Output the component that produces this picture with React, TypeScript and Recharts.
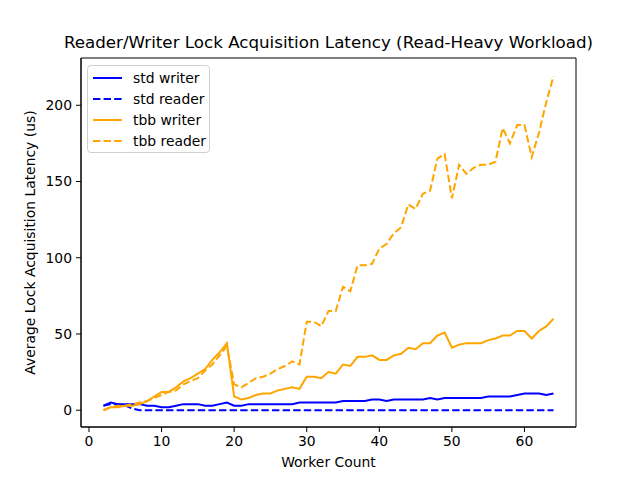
import React from "react";
import { LineChart, Line, XAxis, YAxis, Label, ReferenceArea } from "recharts";

const workers = [
  2, 3, 4, 5, 6, 7, 8, 9, 10, 11, 12, 13, 14, 15, 16, 17, 18, 19, 20, 21, 22, 23, 24, 25, 26, 27, 28, 29, 30, 31, 32, 33,
  34, 35, 36, 37, 38, 39, 40, 41, 42, 43, 44, 45, 46, 47, 48, 49, 50, 51, 52, 53, 54, 55, 56, 57, 58, 59, 60, 61, 62, 63, 64,
];

const stdWriter = [
  3, 5, 4, 4, 4, 4, 3, 3, 2, 2, 3, 4, 4, 4, 3, 3, 4, 5, 3, 3, 4, 4, 4, 4, 4, 4, 4, 5, 5, 5, 5, 5,
  5, 6, 6, 6, 6, 7, 7, 6, 7, 7, 7, 7, 7, 8, 7, 8, 8, 8, 8, 8, 8, 9, 9, 9, 9, 10, 11, 11, 11, 10, 11,
];

const stdReader = [
  3, 4, 4, 3, 1, 0, 0, 0, 0, 0, 0, 0, 0, 0, 0, 0, 0, 0, 0, 0, 0, 0, 0, 0, 0, 0, 0, 0, 0, 0, 0, 0,
  0, 0, 0, 0, 0, 0, 0, 0, 0, 0, 0, 0, 0, 0, 0, 0, 0, 0, 0, 0, 0, 0, 0, 0, 0, 0, 0, 0, 0, 0, 0,
];

const tbbWriter = [
  0, 2, 2, 3, 3, 4, 6, 9, 12, 12, 15, 19, 21, 24, 27, 33, 38, 44, 9, 7, 8, 10, 11, 11, 13, 14, 15, 14, 22, 22, 21, 25,
  24, 30, 29, 35, 35, 36, 33, 33, 36, 37, 41, 40, 44, 44, 49, 51, 41, 43, 44, 44, 44, 46, 47, 49, 49, 52, 52, 47, 52, 55, 60,
];

const tbbReader = [
  0, 2, 3, 3, 4, 5, 6, 8, 10, 12, 13, 17, 19, 21, 26, 30, 36, 42, 17, 15, 18, 21, 22, 24, 27, 29, 32, 30, 58, 58, 55, 65,
  65, 81, 78, 95, 95, 96, 106, 109, 116, 120, 135, 132, 142, 144, 165, 168, 139, 161, 155, 159, 161, 161, 163, 185, 175, 187, 187, 166, 182, 202, 219,
];

const xTicks = [0, 10, 20, 30, 40, 50, 60];
const yTicks = [0, 50, 100, 150, 200];

const data = workers.map((w, i) => ({
  workers: w,
  stdWriter: stdWriter[i],
  stdReader: stdReader[i],
  tbbWriter: tbbWriter[i],
  tbbReader: tbbReader[i],
}));

const FONT = "'DejaVu Sans', sans-serif";
const BLUE = "#0000ff";
const ORANGE = "#ffa500";
const DASH = "7.4 3.2";

const legendItems = [
  { label: "std writer", color: BLUE, dash: undefined },
  { label: "std reader", color: BLUE, dash: DASH },
  { label: "tbb writer", color: ORANGE, dash: undefined },
  { label: "tbb reader", color: ORANGE, dash: DASH },
];

// matplotlib-style legend box, laid over the plot's upper left corner
function LegendBox() {
  return (
    <div
      style={{
        position: "absolute",
        left: 87,
        top: 65,
        width: 123,
        height: 88,
        boxSizing: "border-box",
        border: "1px solid #d0d0d0",
        borderRadius: 4,
        background: "#fff",
        padding: "1px 0 0 5px",
        fontFamily: FONT,
        fontSize: 13.9,
        lineHeight: "16px",
        color: "#000",
      }}
    >
      {legendItems.map((it) => (
        <div key={it.label} style={{ display: "flex", alignItems: "center", height: 21 }}>
          <svg width={30} height={10} style={{ marginRight: 10 }}>
            <line x1={0} y1={5} x2={29} y2={5} stroke={it.color} strokeWidth={2} strokeDasharray={it.dash} />
          </svg>
          <span>{it.label}</span>
        </div>
      ))}
    </div>
  );
}

export default function App() {
  return (
    <div style={{ position: "absolute", left: 0, top: 0, width: 640, height: 480, background: "#fff" }}>
      <div
        style={{
          position: "absolute",
          left: 0,
          width: 657,
          top: 32,
          textAlign: "center",
          fontFamily: FONT,
          fontSize: 16.7,
          color: "#000",
        }}
      >
        Reader/Writer Lock Acquisition Latency (Read-Heavy Workload)
      </div>
      <LineChart width={640} height={480} data={data} margin={{ top: 58, right: 64, bottom: 0, left: 0 }}>
        <XAxis
          dataKey="workers"
          type="number"
          domain={[-1.1, 67.1]}
          ticks={xTicks}
          allowDataOverflow
          height={53}
          tickSize={5}
          tickMargin={4}
          stroke="#000"
          tick={{ fill: "#000", fontFamily: FONT, fontSize: 13.9 }}
        >
          <Label value="Worker Count" position="insideBottom" offset={13} fill="#000" fontFamily={FONT} fontSize={13.9} />
        </XAxis>
        <YAxis
          type="number"
          domain={[-11, 231]}
          ticks={yTicks}
          allowDataOverflow
          width={81}
          tickSize={5}
          tickMargin={4}
          stroke="#000"
          tick={{ fill: "#000", fontFamily: FONT, fontSize: 13.9 }}
        >
          <Label
            value="Average Lock Acquisition Latency (us)"
            angle={-90}
            position="insideLeft"
            offset={30}
            textAnchor="middle"
            style={{ textAnchor: "middle" }}
            fill="#000"
            fontFamily={FONT}
            fontSize={13.9}
          />
        </YAxis>
        <ReferenceArea x1={-1.1} x2={67.1} y1={-11} y2={231} fill="none" stroke="#000" strokeWidth={1} />
        <Line type="linear" dataKey="stdWriter" stroke={BLUE} strokeWidth={2} dot={false} isAnimationActive={false} />
        <Line
          type="linear"
          dataKey="stdReader"
          stroke={BLUE}
          strokeWidth={2}
          strokeDasharray={DASH}
          dot={false}
          isAnimationActive={false}
        />
        <Line type="linear" dataKey="tbbWriter" stroke={ORANGE} strokeWidth={2} dot={false} isAnimationActive={false} />
        <Line
          type="linear"
          dataKey="tbbReader"
          stroke={ORANGE}
          strokeWidth={2}
          strokeDasharray={DASH}
          dot={false}
          isAnimationActive={false}
        />
      </LineChart>
      <LegendBox />
    </div>
  );
}
